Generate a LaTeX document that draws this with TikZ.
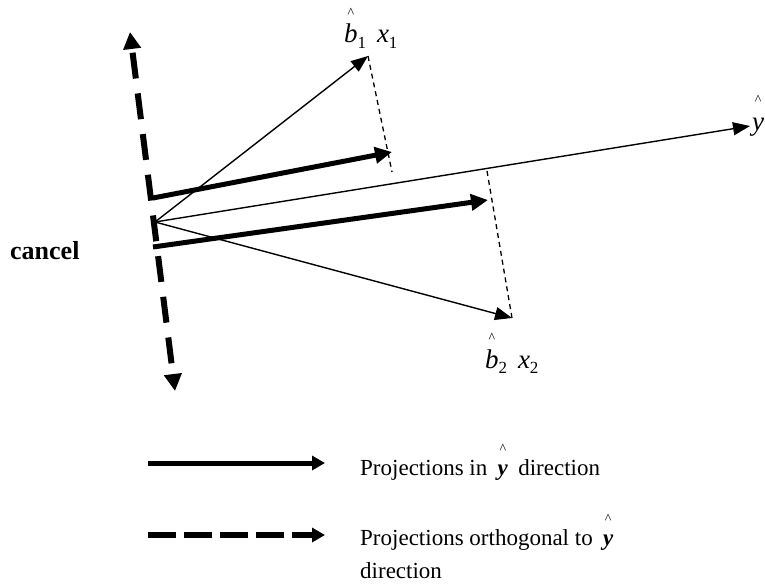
\documentclass[tikz,border=0pt]{standalone}
\usepackage{fontspec}
\setmainfont{Liberation Serif}
\usetikzlibrary{arrows.meta}

% caret set well above a letter
\newsavebox{\hatbox}
\newcommand{\hatted}[2][0.95em]{%
  \sbox{\hatbox}{#2}%
  \rlap{\hbox to \wd\hatbox{\hss\raisebox{#1}{\fontsize{14}{14}\selectfont\textasciicircum}\hss}}%
  \usebox{\hatbox}}
\newcommand{\lowsub}[1]{\raisebox{-0.2em}{\fontsize{17}{17}\selectfont #1}}

\begin{document}
\begin{tikzpicture}[x=1pt, y=-1pt,
  every node/.style={font=\fontsize{23}{27}\selectfont, inner sep=0pt},
  lbl/.style={font=\fontsize{27}{30}\selectfont, anchor=base west},
  vec/.style={line width=1.4pt, -{Triangle[length=17pt,width=13pt]}},
  proj/.style={line width=5pt, -{Triangle[length=17pt,width=16pt]}},
  orth/.style={line width=6pt, dash pattern=on 26pt off 15pt, dash phase=29pt},
  drop/.style={line width=1.3pt, dash pattern=on 5pt off 4pt}]
  \useasboundingbox (0,0) rectangle (765,586);

  % Points
  \coordinate (O) at (155,222);
  \coordinate (B1) at (368,56);
  \coordinate (B2) at (512,318);
  \coordinate (Y) at (750,126);

  % Vectors from the origin
  \draw[vec] (O) -- (B1);
  \draw[vec] (O) -- (B2);
  \draw[vec] (O) -- (Y);

  % Drops onto the y-hat line
  \coordinate (D1) at (392,172);
  \coordinate (D2) at (487,171);
  \draw[drop] (B1) -- (D1);
  \draw[drop] (D2) -- (B2);

  % Projections in y-hat direction
  \coordinate (P1s) at (153,198);
  \coordinate (P1e) at (392,152);
  \coordinate (P2s) at (153,247);
  \coordinate (P2e) at (488,200);
  \draw[proj] (P1s) -- (P1e);
  \draw[proj] (P2s) -- (P2e);

  % Orthogonal parts
  \coordinate (Obot) at (175,391);
  \coordinate (Otop) at (130,32);
  \draw[orth, {Triangle[length=17pt,width=17pt]}-{Triangle[length=17pt,width=17pt]}] (Obot) -- (Otop);

  % Labels
  \node[lbl] (lblB1) at (344,43)
    {\hatted{\textit{b}}\lowsub{1}\hspace{0.4em}\textit{x}\lowsub{1}};
  \node[lbl] (lblB2) at (485,368)
    {\hatted{\textit{b}}\lowsub{2}\hspace{0.4em}\textit{x}\lowsub{2}};
  \node[lbl] (lblY) at (752,130) {\hatted{\textit{y}}};
  \node[anchor=base west, font=\fontsize{26}{30}\selectfont\bfseries] (cancelTxt) at (10,259) {cancel};

  % Legend
  \coordinate (LsA) at (148,463);
  \coordinate (LsB) at (325,463);
  \coordinate (LdA) at (148,535);
  \coordinate (LdB) at (325,535);
  \draw[proj, -{Triangle[length=13pt,width=14pt]}] (LsA) -- (LsB);
  \draw[line width=6.5pt, dash pattern=on 28pt off 8pt, -{Triangle[length=13pt,width=14pt]}] (LdA) -- (LdB);
  \node[anchor=base west] (legIn) at (360,475)
    {Projections in \hspace{0.2em}\hatted{\textbf{\textit{y}}}\hspace{0.2em} direction};
  \node[anchor=base west] (legOrth) at (360,545)
    {Projections orthogonal to \hspace{0.2em}\hatted{\textbf{\textit{y}}}};
  \node[anchor=base west] (legOrthCont) at (360,578) {direction};
\end{tikzpicture}
\end{document}
